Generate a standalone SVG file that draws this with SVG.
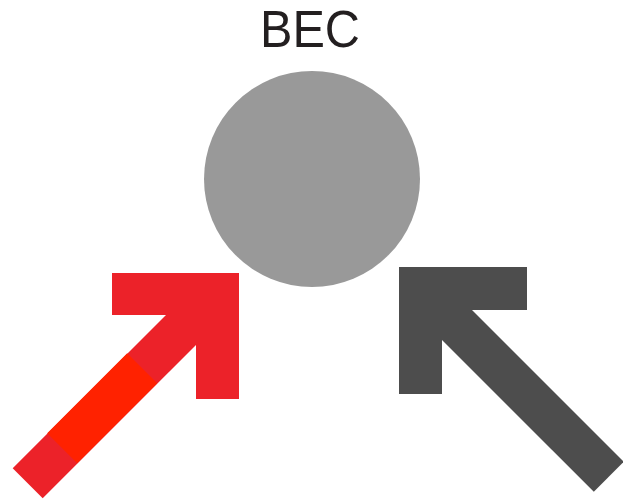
<svg xmlns="http://www.w3.org/2000/svg" width="623" height="502" viewBox="0 0 623 502">
<style>
.lbl{font-family:"Liberation Sans",Arial,sans-serif;font-size:51px;fill:#231f20;text-anchor:middle}
.red{fill:#ec2229}
.dark{fill:#4d4d4d}
</style>
<rect width="623" height="502" fill="#fff"/>
<g id="bec">
<circle cx="312" cy="179" r="108" fill="#999999"/>
<text class="lbl" x="310" y="47" textLength="100" lengthAdjust="spacingAndGlyphs">BEC</text>
</g>
<g id="connectors">
<g id="red-arrow">
<line x1="27.7" y1="483.3" x2="215" y2="296" stroke="#ec2229" stroke-width="42.4"/>
<line x1="62.2" y1="448.3" x2="142.2" y2="368.3" stroke="#ff2200" stroke-width="42.4"/>
<polygon class="red" points="112,273 239,273 239,399 196,399 196,315 112,315"/>
</g>
<g id="dark-arrow">
<line x1="608.8" y1="476.7" x2="421" y2="289" stroke="#4d4d4d" stroke-width="42.4"/>
<polygon class="dark" points="399,267 527,267 527,310 442,310 442,394 399,394"/>
</g>
</g>
</svg>
